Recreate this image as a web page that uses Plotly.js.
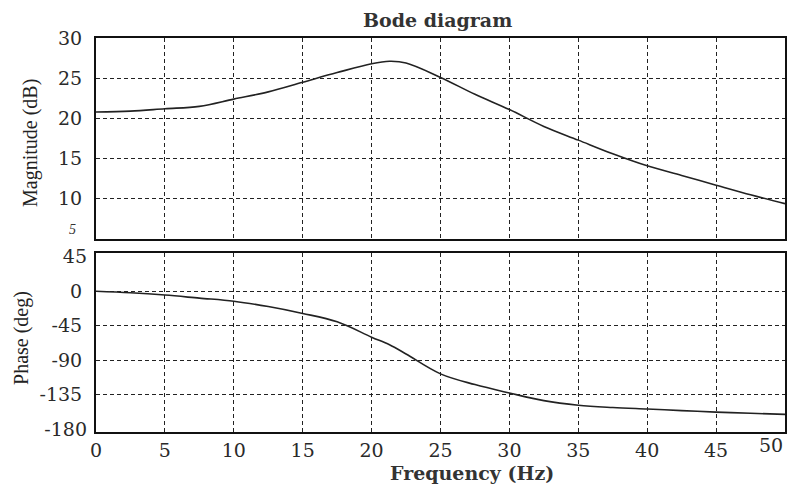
<!DOCTYPE html>
<html>
<head>
<meta charset="utf-8">
<script src="https://cdn.plot.ly/plotly-3.0.1.min.js"></script>
<style>html,body{margin:0;padding:0;background:#fff;}</style>
</head>
<body>
<div id="chart" style="width:791px;height:489px;"></div>
<script>
// Frequency (Hz)
const freq = [0, 2.5, 5, 7.5, 10, 12.5, 15, 17.5, 20, 21.3, 22.5, 25, 27.5, 30, 32.5, 35, 37.5, 40, 42.5, 45, 47.5, 50];
// Magnitude (dB)
const magnitude = [20.8, 20.9, 21.2, 21.5, 22.4, 23.3, 24.5, 25.7, 26.8, 27.1, 26.9, 25.1, 23.0, 21.1, 19.0, 17.3, 15.6, 14.1, 12.9, 11.7, 10.5, 9.4];
// Phase (deg)
const phase = [0, -2, -5, -9, -13, -20, -29, -40, -60, -70, -82, -108, -122, -133, -143, -149, -152, -154, -156, -158, -159.5, -161];

const xTicks = [0, 5, 10, 15, 20, 25, 30, 35, 40, 45];
const xEdgeTicks = [50];
const magTicks = [10, 15, 20, 25, 30];
const phaseGridTicks = [0, -45, -90, -135];
const phaseEdgeTicks = [45, -180];

const tickFont = {family: 'DejaVu Serif', size: 19, color: '#2a2a2a'};
const frame = {showline: true, mirror: true, linecolor: '#111', linewidth: 2};
const grid = {showgrid: true, gridcolor: '#222', gridwidth: 1, griddash: '4px,3px', zeroline: false};
const hidden = {mode: 'lines', line: {color: 'rgba(0,0,0,0)', width: 0}, hoverinfo: 'skip'};

const traces = [
  {x: freq, y: magnitude, xaxis: 'x', yaxis: 'y', mode: 'lines', line: {color: '#222', width: 1.6, shape: 'spline'}, hoverinfo: 'skip'},
  {x: freq, y: phase, xaxis: 'x2', yaxis: 'y2', mode: 'lines', line: {color: '#222', width: 1.6, shape: 'spline'}, hoverinfo: 'skip'},
  Object.assign({x: freq, y: phase, xaxis: 'x2', yaxis: 'y3'}, hidden),
  Object.assign({x: freq, y: phase, xaxis: 'x3', yaxis: 'y2'}, hidden)
];

const layout = {
  width: 791, height: 489,
  margin: {l: 96, r: 6, t: 38, b: 57},
  paper_bgcolor: '#fff', plot_bgcolor: '#fff',
  showlegend: false,
  xaxis: Object.assign({domain: [0, 1], range: [0, 50], tickvals: xTicks, showticklabels: false, anchor: 'y'}, frame, grid),
  yaxis: Object.assign({domain: [0.4898, 1], range: [5, 30], tickvals: magTicks, tickfont: tickFont, ticks: '', ticklabelstandoff: 8, anchor: 'x'}, frame, grid),
  xaxis2: Object.assign({domain: [0, 1], range: [0, 50], tickvals: xTicks, tickfont: tickFont, ticks: '', ticklabelstandoff: 0, anchor: 'y2', automargin: false}, frame, grid),
  xaxis3: {overlaying: 'x2', anchor: 'y2', side: 'bottom', range: [0, 50], tickvals: xEdgeTicks, tickfont: tickFont, ticks: '', ticklabelstandoff: 0, ticklabelshift: -14, ticklabeloverflow: 'allow', showgrid: false, zeroline: false, showline: false, automargin: false},
  yaxis2: Object.assign({domain: [0, 0.4543], range: [-184, 50], tickvals: phaseGridTicks, ticktext: phaseGridTicks.map(String), tickfont: tickFont, ticks: '', ticklabelstandoff: 8, anchor: 'x2'}, frame, grid),
  yaxis3: {overlaying: 'y2', anchor: 'x2', side: 'left', range: [-184, 50], tickvals: phaseEdgeTicks, ticktext: phaseEdgeTicks.map(String), tickfont: tickFont, ticks: '', ticklabelstandoff: 8, ticklabeloverflow: 'allow', showgrid: false, zeroline: false, showline: false},
  annotations: [
    {text: 'Bode diagram', xref: 'paper', yref: 'paper', x: 0.495, y: 1.0457, xanchor: 'center', yanchor: 'middle', showarrow: false, font: {family: 'DejaVu Serif', size: 19, color: '#333', weight: 'bold'}},
    {text: 'Frequency (Hz)', xref: 'paper', yref: 'paper', x: 0.5457, y: -0.104, xanchor: 'center', yanchor: 'middle', showarrow: false, font: {family: 'DejaVu Serif', size: 19, color: '#333', weight: 'bold'}},
    {text: 'Magnitude (dB)', xref: 'paper', yref: 'paper', x: -0.0958, y: 0.7335, xanchor: 'center', yanchor: 'middle', textangle: -90, showarrow: false, font: {family: 'Liberation Serif', size: 20, color: '#222'}},
    {text: 'Phase (deg)', xref: 'paper', yref: 'paper', x: -0.1074, y: 0.2386, xanchor: 'center', yanchor: 'middle', textangle: -90, showarrow: false, font: {family: 'Liberation Serif', size: 20, color: '#222'}},
    {text: '<i>5</i>', xref: 'paper', yref: 'paper', x: -0.0334, y: 0.5127, xanchor: 'center', yanchor: 'middle', showarrow: false, font: {family: 'Liberation Serif', size: 14, color: '#333'}}
  ]
};

Plotly.newPlot('chart', traces, layout, {staticPlot: true, displayModeBar: false});
</script>
</body>
</html>
